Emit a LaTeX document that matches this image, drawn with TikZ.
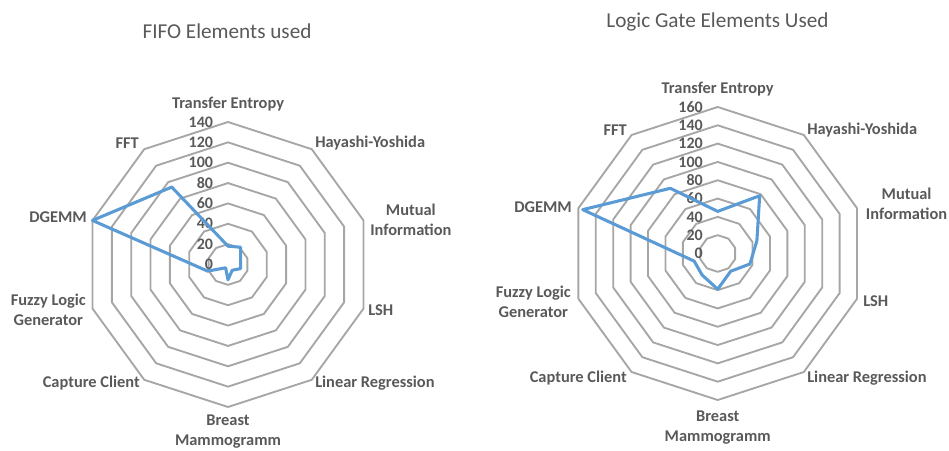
\documentclass[tikz,border=0pt]{standalone}
\usepackage{fontspec}
\setmainfont{Carlito}
\definecolor{txtgray}{HTML}{595959}
\definecolor{ringgray}{HTML}{A6A6A6}
\definecolor{lineblue}{HTML}{5B9BD5}

\begin{document}
\begin{tikzpicture}[x=0.75pt,y=0.75pt,line cap=round,line join=round,
  ring/.style={draw=ringgray,line width=1.4pt},
  dataline/.style={draw=lineblue,line width=2.3pt},
  axislbl/.style={text=txtgray,inner sep=0pt,align=center,font=\fontsize{12.3}{15}\selectfont\bfseries},
  ringlbl/.style={text=txtgray,inner sep=0pt,anchor=east,font=\fontsize{12}{13}\selectfont\bfseries},
  charttitle/.style={text=txtgray,inner sep=0pt,font=\fontsize{15.9}{18}\selectfont}]
\useasboundingbox (0,0) rectangle (949,450);

% FIFO chart
\node[charttitle] (fifotitle) at (227,419) {FIFO Elements used};
\begin{scope}[shift={(228,185.5)}]
\begin{scope}[scale=1.0179]
\draw[ring] (90:20) -- (54:20) -- (18:20) -- (-18:20) -- (-54:20) -- (-90:20) -- (-126:20) -- (-162:20) -- (162:20) -- (126:20) -- cycle;
\draw[ring] (90:40) -- (54:40) -- (18:40) -- (-18:40) -- (-54:40) -- (-90:40) -- (-126:40) -- (-162:40) -- (162:40) -- (126:40) -- cycle;
\draw[ring] (90:60) -- (54:60) -- (18:60) -- (-18:60) -- (-54:60) -- (-90:60) -- (-126:60) -- (-162:60) -- (162:60) -- (126:60) -- cycle;
\draw[ring] (90:80) -- (54:80) -- (18:80) -- (-18:80) -- (-54:80) -- (-90:80) -- (-126:80) -- (-162:80) -- (162:80) -- (126:80) -- cycle;
\draw[ring] (90:100) -- (54:100) -- (18:100) -- (-18:100) -- (-54:100) -- (-90:100) -- (-126:100) -- (-162:100) -- (162:100) -- (126:100) -- cycle;
\draw[ring] (90:120) -- (54:120) -- (18:120) -- (-18:120) -- (-54:120) -- (-90:120) -- (-126:120) -- (-162:120) -- (162:120) -- (126:120) -- cycle;
\draw[ring] (90:140) -- (54:140) -- (18:140) -- (-18:140) -- (-54:140) -- (-90:140) -- (-126:140) -- (-162:140) -- (162:140) -- (126:140) -- cycle;
\node[ringlbl] (f0) at (-14.5,0) {0};
\node[ringlbl] (f20) at (-14.5,20) {20};
\node[ringlbl] (f40) at (-14.5,40) {40};
\node[ringlbl] (f60) at (-14.5,60) {60};
\node[ringlbl] (f80) at (-14.5,80) {80};
\node[ringlbl] (f100) at (-14.5,100) {100};
\node[ringlbl] (f120) at (-14.5,120) {120};
\node[ringlbl] (f140) at (-14.5,140) {140};
\coordinate (fte) at (90:18);
\coordinate (fhy) at (54:21);
\coordinate (fmi) at (18:13);
\coordinate (flsh) at (-18:13);
\coordinate (flr) at (-54:7);
\coordinate (fbm) at (-90:15);
\coordinate (fcc) at (-126:4);
\coordinate (fflg) at (-162:21);
\coordinate (fdg) at (162:140);
\coordinate (ffft) at (126:94);
\draw[dataline] (fte) -- (fhy) -- (fmi) -- (flsh) -- (flr) -- (fbm) -- (fcc) -- (fflg) -- (fdg) -- (ffft) -- cycle;
\end{scope}
\node[axislbl] (fteL) at (0,160.5) {Transfer Entropy};
\node[axislbl,anchor=west] (fhyL) at (87,121.5) {Hayashi-Yoshida};
\node[axislbl,anchor=west] (fmiL) at (142,44.5) {Mutual\\Information};
\node[axislbl,anchor=west] (flshL) at (140,-45.5) {LSH};
\node[axislbl,anchor=west] (flrL) at (87,-118.5) {Linear Regression};
\node[axislbl] (fbmL) at (0,-167.5) {Breast\\Mammogramm};
\node[axislbl,anchor=east] (fccL) at (-88,-118.5) {Capture Client};
\node[axislbl,anchor=east] (fflgL) at (-142,-45.5) {Fuzzy Logic\\Generator};
\node[axislbl,anchor=east] (fdgL) at (-141,47.5) {DGEMM};
\node[axislbl,anchor=east] (ffftL) at (-89,121.5) {FFT};
\end{scope}

% Logic gate chart
\node[charttitle] (gatetitle) at (717.5,428) {Logic Gate Elements Used};
\begin{scope}[shift={(717.7,196.5)}]
\begin{scope}[scale=0.9156]
\draw[ring] (90:20) -- (54:20) -- (18:20) -- (-18:20) -- (-54:20) -- (-90:20) -- (-126:20) -- (-162:20) -- (162:20) -- (126:20) -- cycle;
\draw[ring] (90:40) -- (54:40) -- (18:40) -- (-18:40) -- (-54:40) -- (-90:40) -- (-126:40) -- (-162:40) -- (162:40) -- (126:40) -- cycle;
\draw[ring] (90:60) -- (54:60) -- (18:60) -- (-18:60) -- (-54:60) -- (-90:60) -- (-126:60) -- (-162:60) -- (162:60) -- (126:60) -- cycle;
\draw[ring] (90:80) -- (54:80) -- (18:80) -- (-18:80) -- (-54:80) -- (-90:80) -- (-126:80) -- (-162:80) -- (162:80) -- (126:80) -- cycle;
\draw[ring] (90:100) -- (54:100) -- (18:100) -- (-18:100) -- (-54:100) -- (-90:100) -- (-126:100) -- (-162:100) -- (162:100) -- (126:100) -- cycle;
\draw[ring] (90:120) -- (54:120) -- (18:120) -- (-18:120) -- (-54:120) -- (-90:120) -- (-126:120) -- (-162:120) -- (162:120) -- (126:120) -- cycle;
\draw[ring] (90:140) -- (54:140) -- (18:140) -- (-18:140) -- (-54:140) -- (-90:140) -- (-126:140) -- (-162:140) -- (162:140) -- (126:140) -- cycle;
\draw[ring] (90:160) -- (54:160) -- (18:160) -- (-18:160) -- (-54:160) -- (-90:160) -- (-126:160) -- (-162:160) -- (162:160) -- (126:160) -- cycle;
\node[ringlbl] (g0) at (-16,0) {0};
\node[ringlbl] (g20) at (-16,20) {20};
\node[ringlbl] (g40) at (-16,40) {40};
\node[ringlbl] (g60) at (-16,60) {60};
\node[ringlbl] (g80) at (-16,80) {80};
\node[ringlbl] (g100) at (-16,100) {100};
\node[ringlbl] (g120) at (-16,120) {120};
\node[ringlbl] (g140) at (-16,140) {140};
\node[ringlbl] (g160) at (-16,160) {160};
\coordinate (gte) at (90:46);
\coordinate (ghy) at (54:78);
\coordinate (gmi) at (18:45);
\coordinate (glsh) at (-18:37);
\coordinate (glr) at (-54:24);
\coordinate (gbm) at (-90:39);
\coordinate (gcc) at (-126:29);
\coordinate (gflg) at (-162:27);
\coordinate (gdg) at (162:155);
\coordinate (gfft) at (126:88);
\draw[dataline] (gte) -- (ghy) -- (gmi) -- (glsh) -- (glr) -- (gbm) -- (gcc) -- (gflg) -- (gdg) -- (gfft) -- cycle;
\end{scope}
\node[axislbl] (gteL) at (0,164.5) {Transfer Entropy};
\node[axislbl,anchor=west] (ghyL) at (89.3,123.5) {Hayashi-Yoshida};
\node[axislbl,anchor=west] (gmiL) at (148,49.5) {Mutual\\Information};
\node[axislbl,anchor=west] (glshL) at (145.3,-47.5) {LSH};
\node[axislbl,anchor=west] (glrL) at (89.3,-124.5) {Linear Regression};
\node[axislbl] (gbmL) at (0,-174.5) {Breast\\Mammogramm};
\node[axislbl,anchor=east] (gccL) at (-90.7,-124.5) {Capture Client};
\node[axislbl,anchor=east] (gflgL) at (-146.7,-48) {Fuzzy Logic\\Generator};
\node[axislbl,anchor=east] (gdgL) at (-145.7,46.5) {DGEMM};
\node[axislbl,anchor=east] (gfftL) at (-90.7,123.5) {FFT};
\end{scope}
\end{tikzpicture}
\end{document}
